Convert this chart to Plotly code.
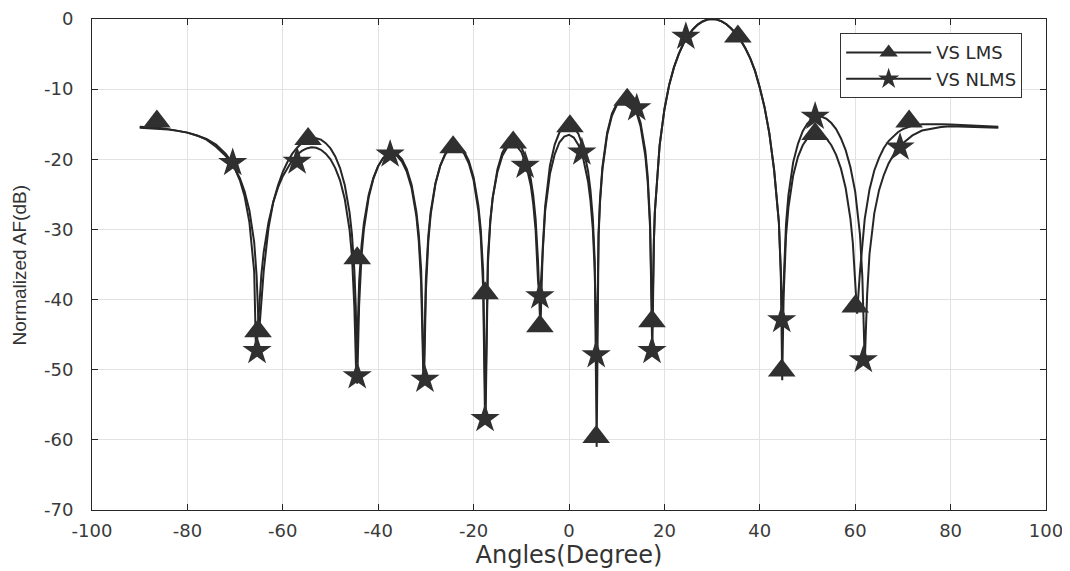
import plotly.graph_objects as go

# ---------------- data ----------------
angle_lms = [-90, -88, -86, -84, -82, -80, -78, -76, -74, -72, -71, -70, -69, -68, -67, -66, -65.5, -65.0,
             -64.5, -64, -63, -62, -61, -60, -59, -58, -57, -56, -55, -54, -53, -52, -51, -50, -49, -48, -47,
             -46, -45.5, -45, -44.7, -44.4,
             -44, -43.5, -43, -42, -41, -40, -39, -38, -37, -36, -35, -34, -33, -32, -31.5, -31, -30.4,
             -30, -29.5, -29, -28, -27, -26, -25, -24, -23, -22, -21, -20, -19, -18.5, -18, -17.5,
             -17, -16.5, -16, -15, -14, -13, -12, -11, -10, -9, -8, -7.5, -7, -6.5, -6.0,
             -5.5, -5, -4, -3, -2, -1, 0, 1, 2, 3, 4, 4.5, 5, 5.4, 5.8,
             6.2, 6.5, 7, 8, 9, 10, 11, 12, 13, 14, 15, 16, 16.5, 17, 17.46,
             17.8, 18, 19, 20, 21, 22, 23, 24, 25, 26, 27, 28, 29, 30, 31, 32, 33, 34, 35, 36, 37, 38, 39,
             40, 41, 42, 43, 44, 44.4, 44.7,
             45, 45.5, 46, 47, 48, 49, 50, 51, 52, 53, 54, 55, 56, 57, 58, 59, 59.5, 60, 60.4,
             61, 62, 63, 64, 65, 66, 67, 68, 69, 70, 71, 72, 74, 76, 78, 80, 84, 87, 90]
af_lms = [-15.35, -15.4, -15.5, -15.7, -15.9, -16.2, -16.6, -17.1, -17.9, -19.2, -20.1, -21.3, -22.7, -24.6,
          -27.3, -31.8, -36.5, -45.0,
          -41.0, -35.9, -29.8, -26.1, -23.7, -21.8, -20.35, -19.2, -18.35, -17.7, -17.3, -17.0, -17.0, -17.2,
          -17.7, -18.45, -19.6, -21.25, -23.7, -27.6, -30.7, -35.9, -41.0, -52.0,
          -40.8, -33.8, -30.0, -25.45, -22.75, -20.97, -19.83, -19.2, -19.0, -19.26, -20.0, -21.4, -23.64,
          -27.45, -30.6, -35.7, -52.0,
          -38.75, -31.7, -27.9, -23.5, -20.95, -19.32, -18.38, -18.0, -18.16, -18.87, -20.24, -22.57, -26.6,
          -30.0, -35.9, -57.5,
          -34.9, -28.9, -25.5, -21.4, -19.1, -17.8, -17.33, -17.46, -18.27, -19.9, -22.86, -25.1, -28.5,
          -34.4, -44.5,
          -32.6, -26.7, -20.9, -17.9, -16.16, -15.29, -15.0, -15.38, -16.43, -18.4, -21.7, -24.4, -28.5,
          -34.5, -61.0,
          -30.5, -25.7, -21.1, -16.2, -13.5, -12.1, -11.4, -11.3, -11.8, -13.0, -15.3, -19.5, -23.2, -29.8,
          -44.0,
          -31.5, -27.5, -18.0, -12.9, -9.4, -6.9, -5.0, -3.5, -2.35, -1.45, -0.8, -0.35, -0.09, 0.0,
          -0.09, -0.33, -0.75, -1.35, -2.1, -3.05, -4.2, -5.6, -7.4,
          -9.8, -12.6, -16.3, -21.5, -29.0, -36.0, -51.5,
          -39.4, -30.9, -26.9, -22.3, -19.65, -18.0, -17.0, -16.45, -16.3, -16.5, -17.07, -18.0, -19.37,
          -21.3, -24.1, -28.5, -31.9, -38.0, -42.0,
          -36.0, -28.5, -24.3, -21.6, -19.8, -18.4, -17.4, -16.7, -16.1, -15.7, -15.4, -15.2, -15.0, -14.95,
          -15.0, -15.05, -15.2, -15.3, -15.35]

angle_nlms = [-90, -88, -86, -84, -82, -80, -78, -76, -74, -72, -71, -70, -69, -68, -67, -66, -65.6,
              -65, -64.5, -64, -63, -62, -61, -60, -59, -58, -57, -56, -55, -54, -53, -52, -51, -50, -49, -48,
              -47, -46, -45.5, -45, -44.6,
              -44, -43.5, -43, -42, -41, -40, -39, -38, -37, -36, -35, -34, -33, -32, -31.5, -31, -30.5,
              -30, -29.5, -29, -28, -27, -26, -25, -24, -23, -22, -21, -20, -19, -18.5, -18, -17.6,
              -17, -16.5, -16, -15, -14, -13, -12, -11, -10, -9, -8, -7.5, -7, -6.5, -6.1,
              -5.5, -5, -4, -3, -2, -1, 0, 1, 2, 3, 4, 4.5, 5, 5.4, 5.8,
              6.2, 6.5, 7, 8, 9, 10, 11, 12, 13, 14, 15, 16, 16.5, 17, 17.46,
              17.8, 18, 19, 20, 21, 22, 23, 24, 25, 26, 27, 28, 29, 30, 31, 32, 33, 34, 35, 36, 37, 38, 39,
              40, 41, 42, 43, 44, 44.4, 44.7,
              45, 45.5, 46, 47, 48, 49, 50, 51, 52, 53, 54, 55, 56, 57, 58, 59, 60, 61, 61.5, 62,
              62.5, 63, 64, 65, 66, 67, 68, 69, 70, 72, 74, 76, 78, 80, 84, 87, 90]
af_nlms = [-15.5, -15.55, -15.6, -15.75, -15.95, -16.2, -16.6, -17.2, -18.2, -19.5, -20.3, -21.4, -23.0, -25.3,
           -29.0, -36.0, -48.0,
           -42.0, -36.5, -33.2, -29.0, -26.1, -24.0, -22.4, -21.15, -20.1, -19.35, -18.8, -18.46, -18.3,
           -18.36, -18.64, -19.2, -20.0, -21.25, -23.0, -25.7, -30.1, -33.8, -41.0, -51.0,
           -37.5, -32.3, -29.1, -25.1, -22.6, -20.95, -19.9, -19.33, -19.2, -19.53, -20.35, -21.8, -24.1,
           -28.1, -31.6, -37.6, -52.0,
           -37.0, -31.0, -27.5, -23.4, -20.9, -19.35, -18.52, -18.2, -18.41, -19.17, -20.6, -23.0, -27.3,
           -31.0, -38.2, -57.5,
           -33.9, -28.7, -25.5, -21.8, -19.55, -18.35, -17.9, -18.1, -18.95, -20.75, -23.8, -26.35, -30.1,
           -37.2, -40.0,
           -32.5, -27.4, -22.1, -19.3, -17.57, -16.75, -16.5, -16.9, -17.98, -19.95, -23.2, -25.9, -30.0,
           -36.1, -48.5,
           -31.0, -26.2, -21.5, -16.5, -13.8, -12.3, -11.6, -11.4, -11.7, -12.7, -14.8, -18.8, -22.4, -29.0,
           -48.0,
           -31.5, -27.5, -18.0, -12.9, -9.4, -6.9, -5.0, -3.5, -2.35, -1.45, -0.8, -0.35, -0.09, 0.0,
           -0.09, -0.33, -0.75, -1.35, -2.1, -3.05, -4.2, -5.6, -7.4,
           -9.8, -12.6, -16.3, -21.5, -29.0, -36.0, -43.5,
           -37.6, -29.2, -25.1, -20.4, -17.8, -16.0, -14.9, -14.27, -13.94, -13.94, -14.24, -14.83, -15.7,
           -17.0, -18.7, -21.15, -24.6, -30.7, -36.8, -49.0,
           -39.3, -33.5, -27.7, -24.4, -22.25, -20.6, -19.4, -18.4, -17.7, -16.6, -15.9, -15.6, -15.4, -15.3,
           -15.35, -15.45, -15.5]

# marker positions (as drawn in the reference)
mk_angle_lms = [-86.4, -65.2, -54.7, -44.4, -24.3, -17.6, -11.7, -6.1, 0.2, 5.7, 12.2, 17.4, 35.4, 44.6,
                51.6, 60.0, 71.3]
mk_af_lms = [-14.6, -44.5, -17.1, -34.1, -18.3, -39.1, -17.6, -43.8, -15.3, -59.6, -11.5, -43.1, -2.5,
             -50.1, -16.4, -41.0, -14.6]
mk_angle_nlms = [-70.5, -65.4, -57.0, -44.4, -37.5, -30.2, -17.6, -9.2, -6.1, 2.7, 5.7, 14.2, 17.4, 24.5,
                 44.6, 51.6, 61.7, 69.4]
mk_af_nlms = [-20.5, -47.3, -20.3, -50.9, -19.3, -51.4, -57.0, -20.9, -39.5, -19.0, -47.9, -12.7, -47.3,
              -2.5, -42.9, -13.9, -48.6, -18.3]

series_names = ["VS LMS", "VS NLMS"]
x_ticks = [-100, -80, -60, -40, -20, 0, 20, 40, 60, 80, 100]
y_ticks = [0, -10, -20, -30, -40, -50, -60, -70]

# ---------------- figure ----------------
LINE = "#262626"
MK = "#303030"
fig = go.Figure()

fig.add_trace(go.Scatter(x=angle_lms, y=af_lms, mode="lines", line=dict(color=LINE, width=2),
                         showlegend=False, hoverinfo="skip"))
fig.add_trace(go.Scatter(x=angle_nlms, y=af_nlms, mode="lines", line=dict(color=LINE, width=2),
                         showlegend=False, hoverinfo="skip"))
fig.add_trace(go.Scatter(x=mk_angle_lms, y=mk_af_lms, mode="markers",
                         marker=dict(symbol="triangle-up", size=24, color=MK, line=dict(width=0)),
                         showlegend=False))
fig.add_trace(go.Scatter(x=mk_angle_nlms, y=mk_af_nlms, mode="markers",
                         marker=dict(symbol="star", size=22, color=MK, line=dict(width=0)),
                         showlegend=False))
# legend entries
fig.add_trace(go.Scatter(x=[None], y=[None], mode="lines+markers", name=series_names[0],
                         line=dict(color=LINE, width=2),
                         marker=dict(symbol="triangle-up", size=16, color=MK)))
fig.add_trace(go.Scatter(x=[None], y=[None], mode="lines+markers", name=series_names[1],
                         line=dict(color=LINE, width=2),
                         marker=dict(symbol="star", size=16, color=MK)))

axis_common = dict(showgrid=True, gridcolor="#e2e2e2", gridwidth=1, zeroline=False,
                   showline=True, linecolor="#262626", linewidth=1, mirror="ticks",
                   ticks="inside", ticklen=6, tickcolor="#262626", tickwidth=1, automargin=False,
                   ticklabeloverflow="allow",
                   tickfont=dict(family="DejaVu Sans", size=18, color="#3a3a3a"))

fig.update_xaxes(range=[-100, 100], tickvals=x_ticks, ticktext=[str(v) for v in x_ticks],
                 title=dict(text="Angles(Degree)", font=dict(family="DejaVu Sans", size=24, color="#333333"),
                            standoff=0),
                 ticklabelstandoff=4, **axis_common)
fig.update_yaxes(range=[-70, 0], tickvals=y_ticks, ticktext=[str(v) for v in y_ticks],
                 ticklabelstandoff=14, **axis_common)

# the page body has an 8 px margin, so the figure is 8 px smaller and shifted back
fig.update_layout(
    width=1062, height=563,
    margin=dict(l=84, r=24, t=11, b=61),
    paper_bgcolor="white", plot_bgcolor="white",
    showlegend=True,
    legend=dict(x=0.975, y=0.971, xanchor="right", yanchor="top",
                bgcolor="white", bordercolor="#333333", borderwidth=1,
                font=dict(family="DejaVu Sans", size=18, color="#2a2a2a"),
                itemwidth=85, tracegroupgap=0),
    annotations=[dict(text="Normalized AF(dB)", textangle=-90, xref="paper", yref="paper",
                      x=-0.0755, y=0.5, xanchor="center", yanchor="middle", showarrow=False,
                      font=dict(family="Liberation Sans Narrow, Liberation Sans", size=19, color="#333333"))],
)

fig.write_html("out.html")
